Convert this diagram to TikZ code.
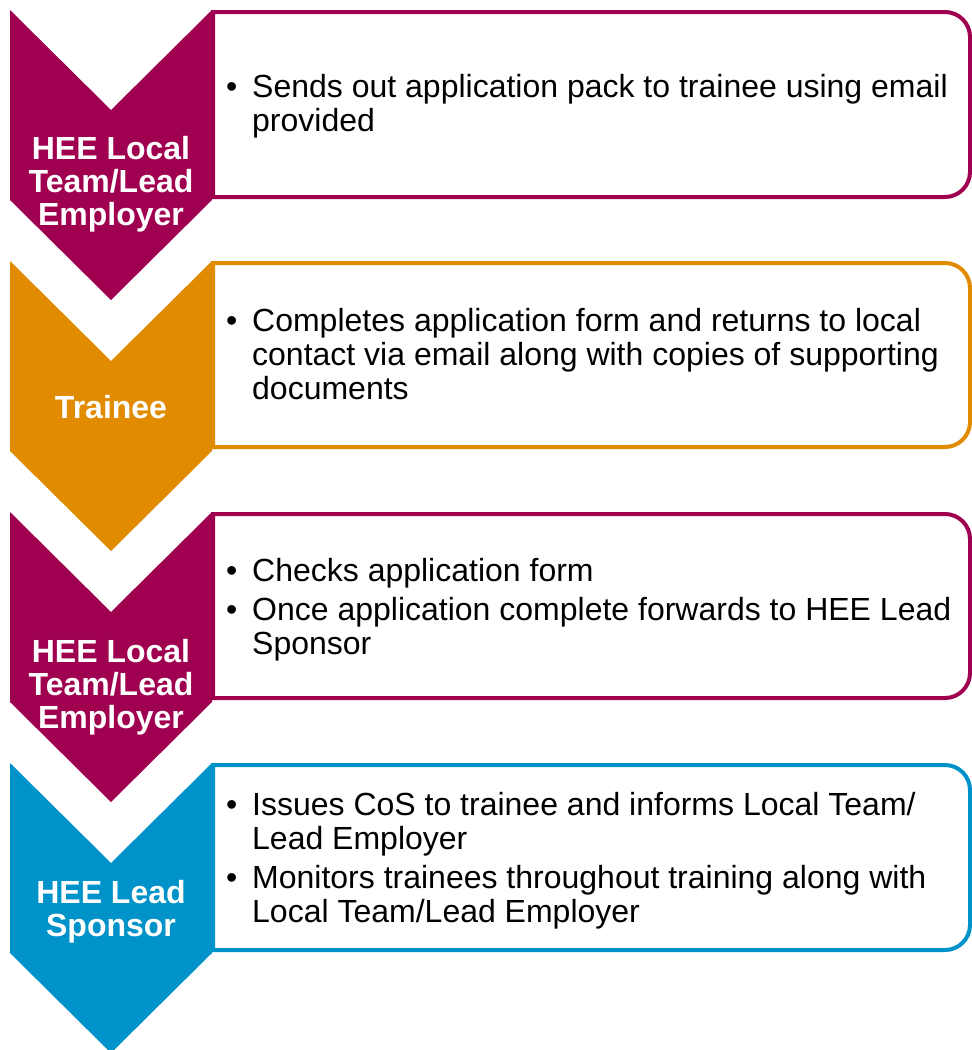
\documentclass[tikz,border=0pt]{standalone}
\usepackage{fontspec}
\setmainfont{Liberation Sans}
\usepackage{array}
\definecolor{cmag}{RGB}{160,0,80}
\definecolor{corg}{RGB}{225,139,0}
\definecolor{cblu}{RGB}{0,147,201}
\tikzset{
  chevtext/.style={text=white,font=\fontsize{32}{33}\selectfont\bfseries,align=center,inner sep=0pt},
  bodytext/.style={text=black,font=\fontsize{32}{34}\selectfont,anchor=west,inner sep=0pt,align=left},
  boxline/.style={line width=4pt,fill=white},
}
\newcommand{\chevpath}[2]{% color, y0
  \fill[#1] (10,#2) -- (111,#2+100) -- (212,#2) -- (212,#2+190) -- (111,#2+290) -- (10,#2+190) -- cycle;}
\newcommand{\boxpath}[3]{% color, top, bottom
  \draw[boxline,draw=#1] (213,#2) -- (945,#2) arc(-90:0:25) -- (970,#3-25) arc(0:90:25) -- (213,#3) -- cycle;}
\begin{document}
\begin{tikzpicture}[x=1pt,y=-1pt]
\useasboundingbox (0,0) rectangle (972,1050);
% boxes
\boxpath{cmag}{12}{197}
\boxpath{corg}{263}{447}
\boxpath{cmag}{514}{698}
\boxpath{cblu}{765}{950}
% chevrons
\chevpath{cmag}{10}
\chevpath{corg}{261}
\chevpath{cmag}{512}
\chevpath{cblu}{763}
% chevron labels
\node[chevtext] (c1) at (111,184) {HEE Local\\Team/Lead\\Employer};
\node[chevtext] (c2) at (111,407) {Trainee};
\node[chevtext] (c3) at (111,687) {HEE Local\\Team/Lead\\Employer};
\node[chevtext] (c4) at (111,911.5) {HEE Lead\\Sponsor};
% body texts
\node[bodytext] (t1) at (226,108) {\begin{tabular}{@{}p{26pt}@{}l@{}}
\textbullet & Sends out application pack to trainee using email\\
 & provided\end{tabular}};
\node[bodytext] (t2) at (226,359) {\begin{tabular}{@{}p{26pt}@{}l@{}}
\textbullet & Completes application form and returns to local\\
 & contact via email along with copies of supporting\\
 & documents\end{tabular}};
\node[bodytext] (t3) at (226,611) {\begin{tabular}{@{}p{26pt}@{}l@{}}
\textbullet & Checks application form\\[5pt]
\textbullet & Once application complete forwards to HEE Lead\\
 & Sponsor\end{tabular}};
\node[bodytext] (t4) at (226,862) {\begin{tabular}{@{}p{26pt}@{}l@{}}
\textbullet & Issues CoS to trainee and informs Local Team/\\
 & Lead Employer\\[5pt]
\textbullet & Monitors trainees throughout training along with\\
 & Local Team/Lead Employer\end{tabular}};
\end{tikzpicture}
\end{document}
